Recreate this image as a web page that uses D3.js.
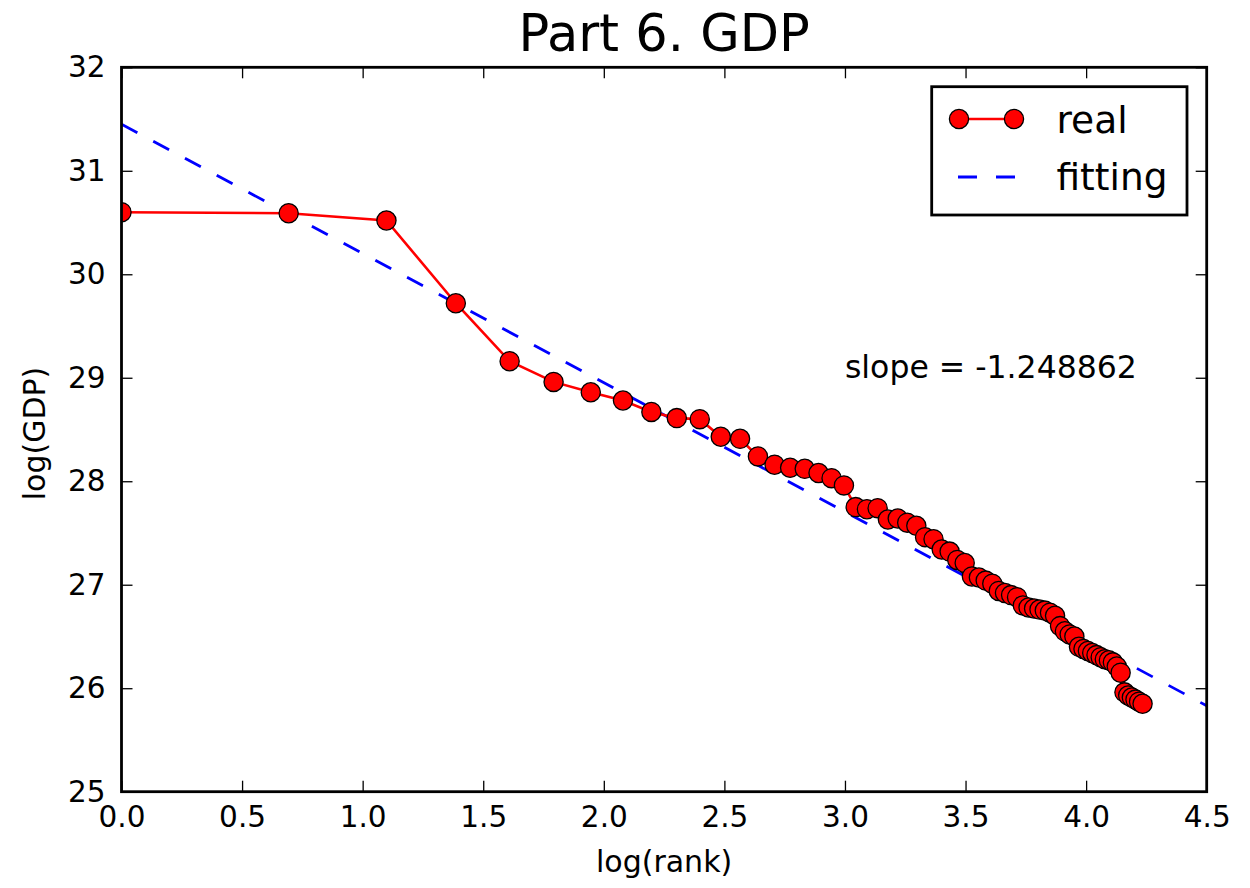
<!DOCTYPE html>
<html>
<head>
<meta charset="utf-8">
<script src="https://cdn.jsdelivr.net/npm/d3@7"></script>
<style>
  html, body { margin: 0; padding: 0; background: #fff; }
  svg { display: block; font-family: "DejaVu Sans", sans-serif; }
</style>
</head>
<body>
<svg id="chart" width="1250" height="888"></svg>
<script>
// ---- data ----
const ranks = d3.range(1, 70);               // rank 1..69, x = log(rank)
const logGDP = [
  30.60, 30.59, 30.52, 29.72, 29.16, 28.96, 28.86, 28.78, 28.67, 28.61,
  28.60, 28.43, 28.41, 28.24, 28.16, 28.13, 28.12, 28.08, 28.03, 27.96,
  27.75, 27.73, 27.74, 27.63, 27.64, 27.60, 27.57, 27.46, 27.44, 27.34,
  27.32, 27.24, 27.21, 27.08, 27.07, 27.04, 27.01, 26.94, 26.92, 26.90,
  26.88, 26.80, 26.78, 26.77, 26.76, 26.75, 26.73, 26.70, 26.60, 26.55,
  26.52, 26.50, 26.40, 26.38, 26.36, 26.34, 26.32, 26.30, 26.28, 26.27,
  26.25, 26.21, 26.15, 25.96, 25.93, 25.91, 25.89, 25.87, 25.85
];
const fitSlope = -1.248862;
const fitIntercept = 31.45;
const xTicks = [0.0, 0.5, 1.0, 1.5, 2.0, 2.5, 3.0, 3.5, 4.0, 4.5];
const yTicks = [25, 26, 27, 28, 29, 30, 31, 32];
const xDomain = [0, 4.5];
const yDomain = [25, 32];
const titleText = "Part 6. GDP";
const xLabel = "log(rank)";
const yLabel = "log(GDP)";
const slopeText = "slope = " + fitSlope.toFixed(6);
const slopeAt = [3.0, 29.0];
const legendItems = ["real", "fitting"];

// ---- layout ----
const W = 1250, H = 888;
const m = { left: 121.5, right: 43.3, top: 67.3, bottom: 96.3 };
const iw = W - m.left - m.right, ih = H - m.top - m.bottom;

const svg = d3.select("#chart");
const x = d3.scaleLinear().domain(xDomain).range([m.left, m.left + iw]);
const y = d3.scaleLinear().domain(yDomain).range([m.top + ih, m.top]);

const pts = ranks.map((r, i) => ({ x: Math.log(r), y: logGDP[i] }));

svg.append("defs").append("clipPath").attr("id", "clip")
  .append("rect").attr("x", m.left).attr("y", m.top).attr("width", iw).attr("height", ih);

const plot = svg.append("g").attr("clip-path", "url(#clip)");

// fitting line
const fitLine = d3.line().x(d => x(d)).y(d => y(fitIntercept + fitSlope * d));
plot.append("path").datum(xDomain)
  .attr("d", fitLine)
  .attr("fill", "none").attr("stroke", "#0000ff")
  .attr("stroke-width", 2.8).attr("stroke-dasharray", "18,18");

// real line
const line = d3.line().x(d => x(d.x)).y(d => y(d.y));
plot.append("path").datum(pts)
  .attr("d", line)
  .attr("fill", "none").attr("stroke", "#ff0000").attr("stroke-width", 2.6);

plot.selectAll("circle.pt").data(pts).enter().append("circle")
  .attr("class", "pt")
  .attr("cx", d => x(d.x)).attr("cy", d => y(d.y)).attr("r", 9.6)
  .attr("fill", "#ff0000").attr("stroke", "#000").attr("stroke-width", 1.3);

// axes (ticks inside, all four sides)
const tickLen = 11;
const axB = d3.axisBottom(x).tickValues(xTicks).tickSize(-tickLen).tickFormat(d3.format(".1f")).tickPadding(14);
const axT = d3.axisTop(x).tickValues(xTicks).tickSize(-tickLen).tickFormat("");
const axL = d3.axisLeft(y).tickValues(yTicks).tickSize(-tickLen).tickFormat(d3.format("d")).tickPadding(16);
const axR = d3.axisRight(y).tickValues(yTicks).tickSize(-tickLen).tickFormat("");

function styleAxis(g) {
  g.select(".domain").remove();
  g.selectAll(".tick line").attr("stroke", "#000").attr("stroke-width", 1.3);
  g.selectAll(".tick text").attr("fill", "#000").style("font-size", "29.5px")
    .style("font-family", "DejaVu Sans");
}
svg.append("g").attr("transform", `translate(0,${m.top + ih})`).call(axB).call(styleAxis);
svg.append("g").attr("transform", `translate(0,${m.top})`).call(axT).call(styleAxis);
svg.append("g").attr("transform", `translate(${m.left},0)`).call(axL).call(styleAxis);
svg.append("g").attr("transform", `translate(${m.left + iw},0)`).call(axR).call(styleAxis);

// frame
svg.append("rect").attr("x", m.left).attr("y", m.top).attr("width", iw).attr("height", ih)
  .attr("fill", "none").attr("stroke", "#000").attr("stroke-width", 2.8);

// title and labels
svg.append("text").attr("x", m.left + iw / 2).attr("y", 50.5)
  .attr("text-anchor", "middle").style("font-size", "51px").text(titleText);
svg.append("text").attr("x", m.left + iw / 2).attr("y", 872)
  .attr("text-anchor", "middle").style("font-size", "30px").text(xLabel);
svg.append("text").attr("transform", `translate(45,${m.top + ih / 2 + 4}) rotate(-90)`)
  .attr("text-anchor", "middle").style("font-size", "30px").text(yLabel);

// slope annotation
svg.append("text").attr("x", x(slopeAt[0])).attr("y", y(slopeAt[1]))
  .style("font-size", "31.5px").text(slopeText);

// legend
const lg = svg.append("g");
lg.append("rect").attr("x", 931.7).attr("y", 86.7).attr("width", 255.3).attr("height", 128.3)
  .attr("fill", "#fff").attr("stroke", "#000").attr("stroke-width", 2.8);
lg.append("line").attr("x1", 959).attr("x2", 1014).attr("y1", 119).attr("y2", 119)
  .attr("stroke", "#ff0000").attr("stroke-width", 2.6);
[959, 1014].forEach(cx => lg.append("circle").attr("cx", cx).attr("cy", 119).attr("r", 9.6)
  .attr("fill", "#ff0000").attr("stroke", "#000").attr("stroke-width", 1.3));
lg.append("line").attr("x1", 958).attr("x2", 1015).attr("y1", 177).attr("y2", 177)
  .attr("stroke", "#0000ff").attr("stroke-width", 2.8).attr("stroke-dasharray", "19,19");
lg.append("text").attr("x", 1056.5).attr("y", 132.5).style("font-size", "37.5px").text(legendItems[0]);
lg.append("text").attr("x", 1056.5).attr("y", 190).style("font-size", "37.5px").text(legendItems[1]);
</script>
</body>
</html>
